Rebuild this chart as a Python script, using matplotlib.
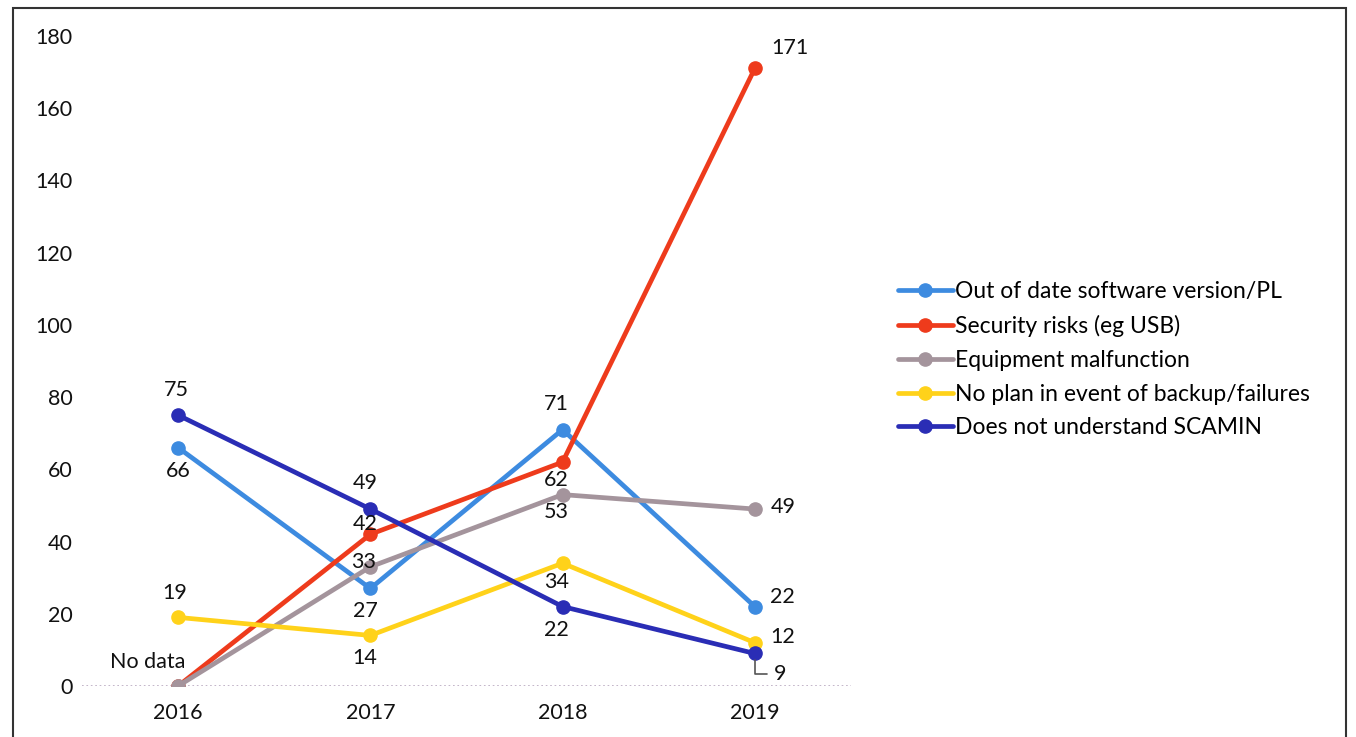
import matplotlib
matplotlib.use('Agg')
import matplotlib.pyplot as plt
from matplotlib.patches import Rectangle

plt.rcParams['font.family'] = ['Lato', 'DejaVu Sans']

years = ['2016', '2017', '2018', '2019']
series_names = [
    'Out of date software version/PL',
    'Security risks (eg USB)',
    'Equipment malfunction',
    'No plan in event of backup/failures',
    'Does not understand SCAMIN',
]
out_of_date = [66, 27, 71, 22]
security = [0, 42, 62, 171]
equipment = [0, 33, 53, 49]
no_plan = [19, 14, 34, 12]
scamin = [75, 49, 22, 9]
values = [out_of_date, security, equipment, no_plan, scamin]

colors = ['#3d8be0', '#ee3b1c', '#a4949c', '#ffd21a', '#2a2db5']

# label offsets in pixels per point, None = no label
offsets = [
    [(0, -23), (-5, -23), (-6, 26), (28, 10)],
    [(-30, 24), (-5, 10), (-6, -18), (35, 20)],
    [None, (-7, 5), (-6, -17), (28, 2)],
    [(-3, 24), (-6, -23), (-6, -19), (28, 6)],
    [(-2, 25), (-5, 26), (-6, -23), None],
]

fig = plt.figure(figsize=(13.56, 7.37), dpi=100)
ax = fig.add_axes([0.0605, 0.0692, 0.567, 0.882])
x = list(range(len(years)))

for name, vals, col, offs in zip(series_names, values, colors, offsets):
    ax.plot(x, vals, color=col, lw=3.4, marker='o', ms=9.5, label=name,
            solid_capstyle='round')
    for xi, v, off in zip(x, vals, offs):
        if off is None:
            continue
        txt = 'No data' if (name == series_names[1] and v == 0) else str(v)
        ax.annotate(txt, (xi, v), xytext=off, textcoords='offset pixels',
                    ha='center', va='center', fontsize=15.5, color='#111111')

# last dark blue point gets a leader line
ax.annotate(str(scamin[3]), (x[3], scamin[3]), xytext=(25, -21),
            textcoords='offset pixels', ha='center', va='center',
            fontsize=15.5, color='#111111',
            arrowprops=dict(arrowstyle='-', color='#555555', lw=1.2,
                            relpos=(0, 0.5), shrinkA=3, shrinkB=5,
                            connectionstyle='angle,angleA=0,angleB=90'))

ax.set_xlim(-0.5, 3.5)
ax.set_ylim(0, 180)
ax.set_yticks(range(0, 181, 20))
ax.set_xticks(x)
ax.set_xticklabels(years)
ax.tick_params(axis='both', length=0, labelsize=15.5, colors='#111111')
ax.tick_params(axis='x', pad=12)
ax.tick_params(axis='y', pad=7)
for s in ax.spines.values():
    s.set_visible(False)
ax.axhline(0, color='#b9a9c0', lw=1.2, ls=':', zorder=0)

leg = fig.legend(loc='center left', bbox_to_anchor=(0.6535, 0.512),
                 frameon=False, fontsize=16.5, handlelength=2.4,
                 handletextpad=0.1, labelspacing=0.56, borderpad=0)

fig.patches.append(Rectangle((0.0096, -0.02), 0.983, 1.009,
                             transform=fig.transFigure, fill=False,
                             edgecolor='#333333', lw=1.5))

fig.savefig('out.png', dpi=100)
